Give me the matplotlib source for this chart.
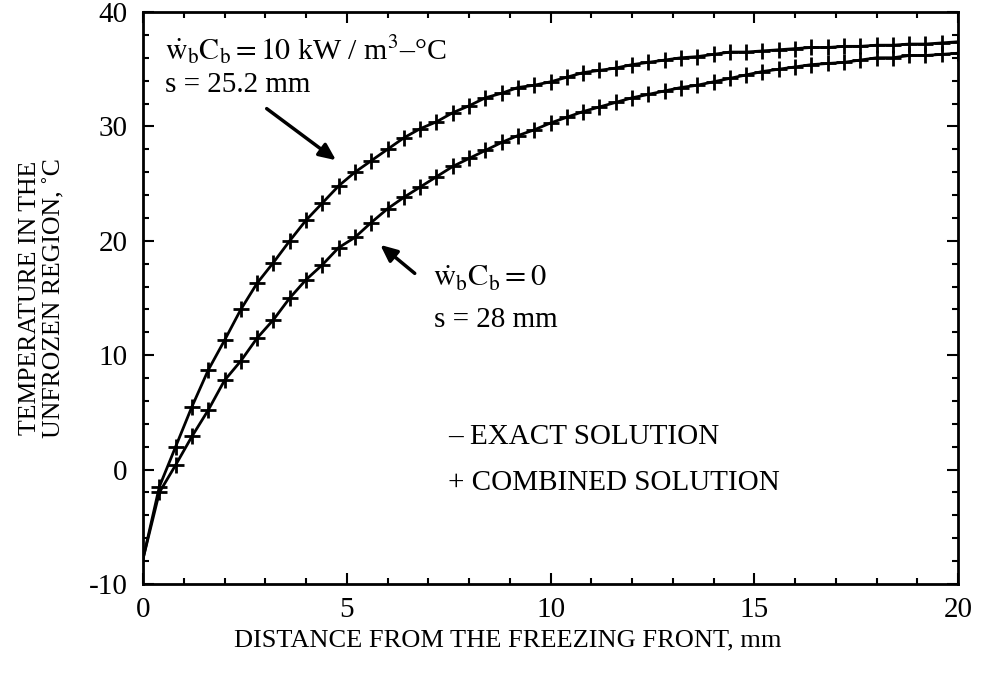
import matplotlib.pyplot as plt
from matplotlib.ticker import MultipleLocator

plt.rcParams['font.family'] = ['Liberation Serif', 'DejaVu Serif']
plt.rcParams['mathtext.fontset'] = 'stix'
plt.rcParams['axes.unicode_minus'] = False

# distance from the freezing front, mm
distance = [0.0, 0.4, 0.8, 1.2, 1.6, 2.0, 2.4, 2.8, 3.2, 3.6,
            4.0, 4.4, 4.8, 5.2, 5.6, 6.0, 6.4, 6.8, 7.2, 7.6,
            8.0, 8.4, 8.8, 9.2, 9.6, 10.0, 10.4, 10.8, 11.2, 11.6,
            12.0, 12.4, 12.8, 13.2, 13.6, 14.0, 14.4, 14.8, 15.2, 15.6,
            16.0, 16.4, 16.8, 17.2, 17.6, 18.0, 18.4, 18.8, 19.2, 19.6, 20.0]

# wbCb = 10 kW/m3-C, s = 25.2 mm
tempHeated = [-7.8, -1.5, 2.0, 5.5, 8.7, 11.3, 14.0, 16.3, 18.1, 20.0,
              21.8, 23.3, 24.8, 26.0, 27.0, 28.0, 29.0, 29.8, 30.4, 31.2,
              31.8, 32.5, 32.9, 33.4, 33.6, 33.9, 34.3, 34.7, 34.9, 35.1,
              35.4, 35.6, 35.8, 36.0, 36.1, 36.3, 36.5, 36.5, 36.6, 36.7,
              36.8, 36.9, 36.9, 37.0, 37.0, 37.1, 37.1, 37.2, 37.2, 37.3, 37.4]

# wbCb = 0, s = 28 mm
tempNoFlow = [-7.8, -2.0, 0.4, 2.9, 5.2, 7.8, 9.5, 11.5, 13.1, 15.0,
              16.6, 17.9, 19.4, 20.3, 21.6, 22.8, 23.8, 24.7, 25.6, 26.5,
              27.2, 27.9, 28.6, 29.2, 29.7, 30.3, 30.8, 31.3, 31.7, 32.1,
              32.5, 32.8, 33.1, 33.4, 33.6, 33.9, 34.2, 34.5, 34.8, 35.0,
              35.2, 35.4, 35.5, 35.6, 35.8, 36.0, 36.0, 36.2, 36.2, 36.3, 36.4]

fig = plt.figure(figsize=(9.81, 6.79), dpi=100)
ax = fig.add_axes([0.1458, 0.1399, 0.8308, 0.8424])

# exact solution (lines)
ax.plot(distance, tempHeated, color='black', lw=2.0)
ax.plot(distance, tempNoFlow, color='black', lw=2.0)
# combined solution (markers)
ax.plot(distance[1:], tempHeated[1:], ls='none', marker='+', ms=11, mew=2, color='black')
ax.plot(distance[1:], tempNoFlow[1:], ls='none', marker='+', ms=11, mew=2, color='black')

ax.set_xlim(0, 20)
ax.set_ylim(-10, 40)
ax.xaxis.set_major_locator(MultipleLocator(5))
ax.xaxis.set_minor_locator(MultipleLocator(1))
ax.yaxis.set_major_locator(MultipleLocator(10))
ax.yaxis.set_minor_locator(MultipleLocator(2))
ax.tick_params(which='both', direction='in', top=True, right=True, width=1.5)
ax.tick_params(which='major', length=8, labelsize=21)
ax.tick_params(axis='x', which='major', pad=9)
ax.tick_params(axis='y', which='major', pad=11)
ax.tick_params(which='minor', length=4)
for s in ax.spines.values():
    s.set_linewidth(2)

ax.set_xlabel('DISTANCE FROM THE FREEZING FRONT, mm', fontsize=19)
ax.xaxis.set_label_coords(0.448, -0.08)
ax.set_ylabel('TEMPERATURE IN THE\nUNFROZEN REGION, ˚C', fontsize=18.5,
              linespacing=1.15)
ax.yaxis.set_label_coords(-0.095, 0.5)

# annotations
ax.text(0.54, 36.7, r'$\dot{\rm w}_{\rm b}{\rm C}_{\rm b}=10$ kW / m$^3$–°C',
        fontsize=21.5, va='center', ha='left')
ax.text(0.54, 33.6, 's = 25.2 mm', fontsize=21, va='center', ha='left')
ax.annotate('', xy=(4.79, 26.9), xytext=(2.98, 31.7),
            arrowprops=dict(arrowstyle='-|>,head_length=1.0,head_width=0.45',
                            color='black', lw=2.5))

ax.text(7.12, 16.6, r'$\dot{\rm w}_{\rm b}{\rm C}_{\rm b}=0$',
        fontsize=22, va='center', ha='left')
ax.text(7.15, 13.1, 's = 28 mm', fontsize=21, va='center', ha='left')
ax.annotate('', xy=(5.77, 19.8), xytext=(6.72, 17.0),
            arrowprops=dict(arrowstyle='-|>,head_length=1.0,head_width=0.45',
                            color='black', lw=2.5))

# legend as text
ax.text(7.48, 2.85, '– EXACT SOLUTION', fontsize=21, va='center', ha='left')
ax.text(7.48, -1.17, '+ COMBINED SOLUTION', fontsize=21, va='center', ha='left')

fig.savefig('out.png', dpi=100)
